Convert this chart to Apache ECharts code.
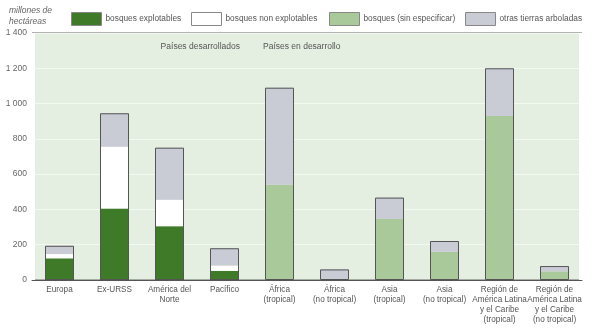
<!DOCTYPE html>
<html><head><meta charset="utf-8">
<script src="https://cdn.jsdelivr.net/npm/echarts@6/dist/echarts.min.js"></script>
<style>html,body{margin:0;padding:0;background:#fff}#c{width:600px;height:332px}</style>
</head><body><div id="c"></div>
<script>
const categories = ['Europa','Ex-URSS','América del\nNorte','Pacífico','África\n(tropical)','África\n(no tropical)','Asia\n(tropical)','Asia\n(no tropical)','Región de\nAmérica Latina\ny el Caribe\n(tropical)','Región de\nAmérica Latina\ny el Caribe\n(no tropical)'];
const explotables    = [123, 405, 305, 52, 0, 0, 0, 0, 0, 0];
const noExplotables  = [24, 350, 150, 30, 0, 0, 0, 0, 0, 0];
const sinEspecificar = [0, 0, 0, 0, 540, 0, 346, 160, 930, 49];
const otras          = [47, 190, 295, 98, 550, 60, 121, 61, 270, 30];
const yTicks = [0, 200, 400, 600, 800, 1000, 1200, 1400];
const seriesNames = ['bosques explotables','bosques non explotables','bosques (sin especificar)','otras tierras arboladas'];
const colors = ['#3f7a28','#ffffff','#a9c99b','#c9cbd5'];

const totals = categories.map((_, i) => explotables[i] + noExplotables[i] + sinEspecificar[i] + otras[i]);
const font = 'Liberation Sans, Arial, sans-serif';
const chart = echarts.init(document.getElementById('c'), null, {renderer:'canvas'});
const dataSets = [explotables, noExplotables, sinEspecificar, otras];
const series = dataSets.map((d, k) => ({
  name: seriesNames[k], type: 'bar', stack: 'all', data: d, barWidth: 29,
  itemStyle: {color: colors[k], borderWidth: 0}, silent: true
}));
series.push({
  name: 'outline', type: 'bar', data: totals, barWidth: 29, barGap: '-100%', z: 5,
  itemStyle: {color: 'rgba(0,0,0,0)', borderColor: '#555', borderWidth: 1}, silent: true
});
const legendPos = [71, 191, 329, 465];
const legends = seriesNames.map((n, k) => ({
  left: legendPos[k], top: 12, itemWidth: 30, itemHeight: 13, itemGap: 4, padding: 0,
  selectedMode: false,
  textStyle: {fontSize: 8.3, color: '#555', fontFamily: font, padding: [0,0,0,-1]},
  data: [{name: n, icon: 'rect', itemStyle: {borderColor: '#888', borderWidth: 1}}]
}));
chart.setOption({
  animation: false,
  backgroundColor: '#fff',
  title: {text: 'millones de\nhectáreas', left: 9, top: 5, padding: 0,
    textStyle: {fontSize: 8.5, fontStyle: 'italic', fontWeight: 'normal', color: '#666', fontFamily: font, lineHeight: 11}},
  legend: legends,
  grid: {left: 32, right: 18, top: 33, bottom: 52, show: true, backgroundColor: '#e5efe1', borderColor: '#666', borderWidth: 1,
    outerBoundsMode: 'none', containLabel: false},
  xAxis: {type: 'category', data: categories,
    axisLine: {lineStyle: {color: '#555'}}, axisTick: {show: false},
    axisLabel: {fontSize: 8.2, color: '#555', fontFamily: font, lineHeight: 10, margin: 5, interval: 0, hideOverlap: false},
    splitLine: {show: true, interval: (i) => i === 4, lineStyle: {color: '#ffffff', width: 6}}
  },
  yAxis: {type: 'value', min: yTicks[0], max: yTicks[yTicks.length-1], interval: 200,
    axisLine: {show: false}, axisTick: {show: false},
    axisLabel: {fontSize: 8.5, color: '#666', fontFamily: font, margin: 5,
      formatter: v => v >= 1000 ? Math.floor(v/1000) + ' ' + String(v % 1000).padStart(3, '0') : String(v)},
    splitLine: {lineStyle: {color: '#f3f8f1', width: 1}}
  },
  graphic: [
    {type: 'text', right: 360, top: 42, style: {text: 'Países desarrollados', fontSize: 8.5, fill: '#555', fontFamily: font}},
    {type: 'text', left: 263, top: 42, style: {text: 'Países en desarrollo', fontSize: 8.5, fill: '#555', fontFamily: font}}
  ],
  series: series
});
</script></body></html>
